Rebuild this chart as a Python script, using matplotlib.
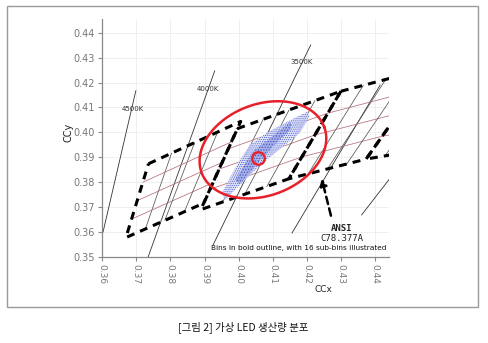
import numpy as np
import matplotlib
matplotlib.use("Agg")
import matplotlib.pyplot as plt
from matplotlib.patches import Rectangle, Polygon

# ---------------- data ----------------
# ANSI C78.377A quadrangles: corners TL, TR, BR, BL (CCx, CCy)
bin_names = ["4000K", "3500K", "3000K", "2700K"]
bin_4000_x = [0.3736, 0.4006, 0.3898, 0.3670]
bin_4000_y = [0.3874, 0.4044, 0.3716, 0.3578]
bin_3500_x = [0.3996, 0.4299, 0.4147, 0.3889]
bin_3500_y = [0.4015, 0.4165, 0.3814, 0.3690]
bin_3000_x = [0.4299, 0.4562, 0.4373, 0.4147]
bin_3000_y = [0.4165, 0.4260, 0.3893, 0.3814]
bin_2700_x = [0.4562, 0.4813, 0.4593, 0.4373]
bin_2700_y = [0.4260, 0.4319, 0.3944, 0.3893]
sub_divisions = [0.25, 0.5, 0.75]

# isotherm (CCT) lines: end points
iso_labels = ["4500K", "4000K", "3500K", "", ""]
iso_x = [[0.3603, 0.3699], [0.3735, 0.3930], [0.3925, 0.4211], [0.4156, 0.4414], [0.4360, 0.4500]]
iso_y = [[0.3600, 0.4167], [0.3500, 0.4247], [0.3548, 0.4351], [0.3596, 0.4190], [0.3669, 0.3917]]
iso_label_x = [0.3691, 0.3910, 0.4185]
iso_label_y = [0.4094, 0.4175, 0.4283]

# production distribution (outline of the measured cloud)
cloud_x = [0.3951, 0.3995, 0.4033, 0.4082, 0.4141, 0.4199,
           0.4208, 0.4179, 0.4129, 0.4082, 0.4033, 0.3995, 0.3960]
cloud_y = [0.3757, 0.3870, 0.3950, 0.3998, 0.4042, 0.4082,
           0.4066, 0.3998, 0.3942, 0.3890, 0.3829, 0.3777, 0.3729]
core_x = [0.3990, 0.4042, 0.4106, 0.4153, 0.4153, 0.4106, 0.4053, 0.4003]
core_y = [0.3811, 0.3924, 0.3992, 0.4044, 0.4012, 0.3952, 0.3872, 0.3791]

# large target ellipse: centre and radii vectors
ell_center = (0.4071, 0.3930)
ell_rx = (0.01794, -0.00468)
ell_ry = (0.00921, 0.01719)
# small target circle
small_center = (0.4056, 0.3898)

xticks = [0.36, 0.37, 0.38, 0.39, 0.40, 0.41, 0.42, 0.43, 0.44]
yticks = [0.35, 0.36, 0.37, 0.38, 0.39, 0.40, 0.41, 0.42, 0.43, 0.44]

# ---------------- figure ----------------
plt.rcParams["hatch.linewidth"] = 0.6
fig = plt.figure(figsize=(4.88, 3.43), dpi=100)
fig.patch.set_facecolor("white")
fig.patches.append(Rectangle((7/488, 1-307/343), 471/488, 301/343, transform=fig.transFigure,
                             fill=False, edgecolor="#9a9a9a", linewidth=1.0))
ax = fig.add_axes([102/488, 1-257/343, 287/488, 238/343])
ax.set_xlim(0.36, 0.444)
ax.set_ylim(0.35, 0.4455)

ax.set_xticks(xticks)
ax.set_xticklabels([f"{v:.2f}" for v in xticks], rotation=270, fontsize=6.5, color="#777777")
ax.set_yticks(yticks)
ax.set_yticklabels([f"{v:.2f}" for v in yticks], fontsize=7, color="#777777")
ax.tick_params(axis="both", direction="out", length=3, width=0.8, color="#888888", pad=2)
ax.grid(True, color="#ededed", linewidth=0.6)
ax.set_axisbelow(True)
for s in ["top", "right"]:
    ax.spines[s].set_visible(False)
for s in ["left", "bottom"]:
    ax.spines[s].set_color("#888888")
    ax.spines[s].set_linewidth(0.9)

# isotherms
for xs, ys in zip(iso_x, iso_y):
    ax.plot(xs, ys, color="#333333", linewidth=0.6, zorder=2)
for lab, lx, ly in zip(iso_labels, iso_label_x, iso_label_y):
    ax.text(lx, ly, lab, fontsize=5, color="#333333", ha="center", va="center", zorder=3)

# sub-bins and bold bin outlines
bins = [(bin_4000_x, bin_4000_y), (bin_3500_x, bin_3500_y),
        (bin_3000_x, bin_3000_y), (bin_2700_x, bin_2700_y)]

def bil(px, py, u, v):
    # corners: TL, TR, BR, BL ; u along bottom (BL->BR), v bottom->top
    TL, TR, BR, BL = [np.array([px[i], py[i]]) for i in range(4)]
    return (1-u)*(1-v)*BL + u*(1-v)*BR + u*v*TR + (1-u)*v*TL

for px, py in bins:
    for f in sub_divisions:
        a = bil(px, py, f, 0.0); b = bil(px, py, f, 1.0)
        ax.plot([a[0], b[0]], [a[1], b[1]], color="#555555", linewidth=0.55, zorder=2)
        a = bil(px, py, 0.0, f); b = bil(px, py, 1.0, f)
        ax.plot([a[0], b[0]], [a[1], b[1]], color="#b5707a", linewidth=0.55, zorder=2)

# cloud (stippled)
ax.add_patch(Polygon(np.column_stack([cloud_x, cloud_y]), closed=True, facecolor="#e4e7fa",
                     edgecolor="#4a5ad0", linewidth=0, hatch="........", alpha=0.9, zorder=3))
ax.add_patch(Polygon(np.column_stack([core_x, core_y]), closed=True, facecolor="#9aa5e6",
                     edgecolor="#2a38b0", linewidth=0, alpha=0.7, hatch="......", zorder=3))

for px, py in bins:
    xs = list(px) + [px[0]]
    ys = list(py) + [py[0]]
    ax.plot(xs, ys, color="black", linewidth=2.2, linestyle=(0, (2.6, 2.0)), zorder=4,
            dash_capstyle="butt")

# ellipse
t = np.linspace(0, 2*np.pi, 300)
ex = ell_center[0] + ell_rx[0]*np.cos(t) + ell_rx[1]*np.sin(t)
ey = ell_center[1] + ell_ry[0]*np.cos(t) + ell_ry[1]*np.sin(t)
ax.plot(ex, ey, color="#e8202a", linewidth=1.8, zorder=5)
ax.plot([small_center[0]], [small_center[1]], marker="o", markersize=9, markerfacecolor="none",
        markeredgecolor="#e8202a", markeredgewidth=1.7, zorder=6)

# annotations
ax.annotate("", xy=(0.4241, 0.3826), xytext=(0.4272, 0.3655),
            arrowprops=dict(arrowstyle="-|>", color="black", linewidth=1.8,
                            linestyle=(0, (3, 1.8)), mutation_scale=10), zorder=6)
ax.text(0.4302, 0.3614, "ANSI", fontsize=6.5, fontweight="bold", family="DejaVu Sans Mono",
        ha="center", va="center", color="#222222")
ax.text(0.4302, 0.3574, "C78.377A", fontsize=6.5, family="DejaVu Sans Mono",
        ha="center", va="center", color="#222222")
ax.text(0.4176, 0.3536, "Bins in bold outline, with 16 sub-bins illustrated", fontsize=5.3,
        ha="center", va="center", color="#111111")

fig.text(68/488, 1-132/343, "CCy", rotation=90, fontsize=7, ha="center", va="center", color="#222222")
fig.text(323/488, 1-289/343, "CCx", fontsize=6.5, ha="center", va="center", color="#222222")

fig.text(243/488, 1-327/343, "[그림 2] 가상 LED 생산량 분포", fontsize=7.5,
         family=["Noto Sans CJK KR", "DejaVu Sans"], ha="center", va="center", color="#111111")

fig.savefig("out.png", dpi=100, facecolor="white")
